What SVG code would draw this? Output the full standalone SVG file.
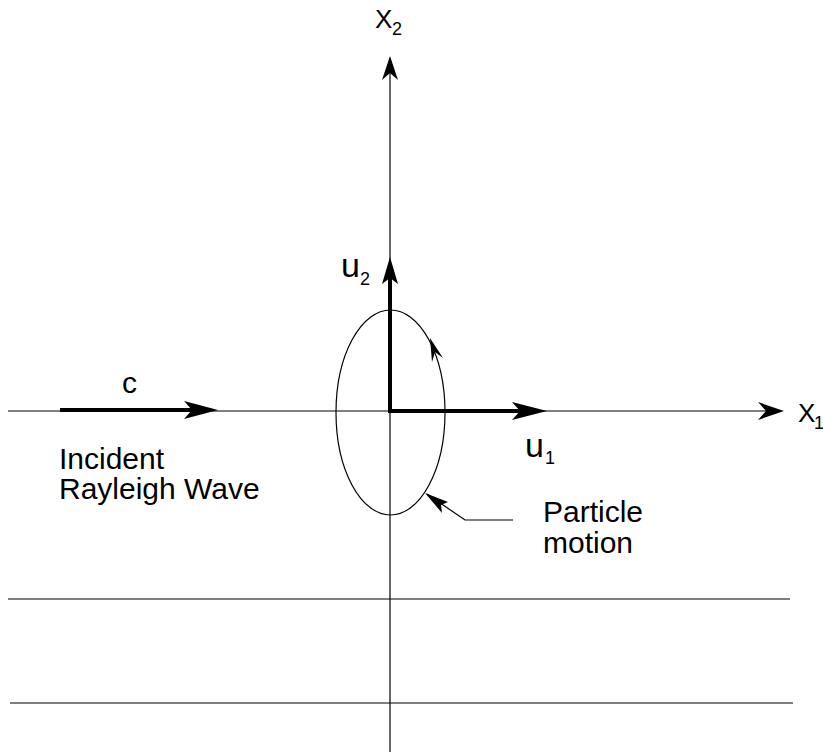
<svg xmlns="http://www.w3.org/2000/svg" width="823" height="753" viewBox="0 0 823 753">
<defs>
<style>
.thin{stroke:#000;stroke-width:1.2;fill:none}
.thick{stroke:#000;stroke-width:4;fill:none}
.head{fill:#000;stroke:none}
text{font-family:"Liberation Sans",Arial,sans-serif;fill:#000}
.lbl{font-size:30px}
.ax{font-size:26px}
.u{font-size:34px}
.sub{font-size:18px}
</style>
</defs>
<g id="connectors">
<line class="thin" x1="390" y1="60" x2="390" y2="752"/>
<path class="head" d="M390,56 L398,80 L390,73 L382,80 Z"/>
<line class="thin" x1="8" y1="411" x2="780" y2="411"/>
<path class="head" d="M784,411 L758,402 L766,411 L758,420 Z"/>
<line class="thin" x1="8" y1="599" x2="790" y2="599"/>
<line class="thin" x1="10" y1="703" x2="793" y2="703"/>
</g>
<g id="wave-arrow">
<line class="thick" x1="60" y1="410" x2="200" y2="410"/>
<path class="head" d="M218,410 L184,401 L192,410 L184,419 Z"/>
<text class="lbl" x="122" y="393">c</text>
</g>
<g id="u2-arrow">
<line class="thick" x1="390" y1="413" x2="390" y2="275"/>
<path class="head" d="M390,257 L398,284 L390,278 L382,284 Z"/>
<text class="u" x="341" y="277">u</text>
<text class="sub" x="360" y="285">2</text>
</g>
<g id="u1-arrow">
<line class="thick" x1="388" y1="411" x2="525" y2="411"/>
<path class="head" d="M547,411 L512,402 L520,411 L512,420 Z"/>
<text class="u" x="525" y="457">u</text>
<text class="sub" x="545" y="464">1</text>
</g>
<g id="particle-orbit">
<ellipse class="thin" cx="390.5" cy="412.5" rx="54.5" ry="102.5"/>
<path class="head" d="M430,338 L443,358 L435,352 L432,362 Z"/>
</g>
<g id="particle-label">
<polyline class="thin" points="513,520 465,520 427,494"/>
<path class="head" d="M425,493 L448,502 L441,505 L442,513 Z"/>
<text class="lbl" x="543" y="522">Particle</text>
<text class="lbl" x="543" y="553">motion</text>
</g>
<g id="incident-label">
<text class="lbl" x="59" y="469">Incident</text>
<text class="lbl" x="59" y="499">Rayleigh Wave</text>
</g>
<g id="x2-label">
<text class="ax" x="375" y="28">X</text>
<text class="sub" x="392" y="35">2</text>
</g>
<g id="x1-label">
<text class="ax" x="798" y="422">X</text>
<text class="sub" x="814" y="429">1</text>
</g>
</svg>
